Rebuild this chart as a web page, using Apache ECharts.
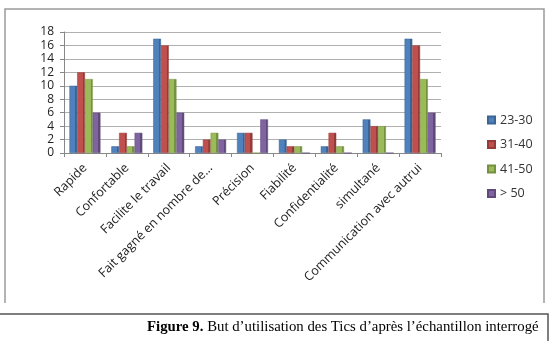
<!DOCTYPE html>
<html>
<head>
<meta charset="utf-8">
<script src="https://cdn.jsdelivr.net/npm/echarts@6/dist/echarts.min.js"></script>
<style>
  html, body { margin: 0; padding: 0; background: #fff; }
  #chart { width: 553px; height: 341px; }
</style>
</head>
<body>
<div id="chart"></div>
<script>
// categories and values
const categories = ['Rapide', 'Confortable', 'Facilite le travail', 'Fait gagné en nombre de...',
    'Précision', 'Fiabilité', 'Confidentialité', 'simultané', 'Communication avec autrui'];
const ages = ['23-30', '31-40', '41-50', '> 50'];
const age2330 = [10, 1, 17, 1, 3, 2, 1, 5, 17];
const age3140 = [12, 3, 16, 2, 3, 1, 3, 4, 16];
const age4150 = [11, 1, 11, 3, 0, 1, 1, 4, 11];
const age50 = [6, 3, 6, 2, 5, 0, 0, 0, 6];
const yTicks = [0, 18, 2]; // min, max, interval

const colors = [['#4F81BD', '#3A6496'], ['#C0504D', '#943B39'], ['#9BBB59', '#74913F'], ['#8064A2', '#5F4A7B']];
const seriesData = [age2330, age3140, age4150, age50];

function shade(c) {
    // flat front with a darker right side, a rough stand-in for the 3D bars
    return {
        type: 'linear', x: 0, y: 0, x2: 1, y2: 0,
        colorStops: [
            { offset: 0, color: c[0] },
            { offset: 0.72, color: c[0] },
            { offset: 0.73, color: c[1] },
            { offset: 1, color: c[1] }
        ]
    };
}

const chart = echarts.init(document.getElementById('chart'));
const font = 'Open Sans';

const option = {
    animation: false,
    textStyle: { fontFamily: font },
    grid: { left: 64, right: 112, top: 32, bottom: 188, containLabel: false },
    legend: {
        orient: 'vertical',
        left: 482,
        top: 108,
        itemWidth: 7,
        itemHeight: 7,
        itemGap: 10.5,
        icon: 'rect',
        textStyle: { fontSize: 12.5, lineHeight: 14, color: '#333', fontFamily: font },
        data: ages.map((a, i) => ({ name: a, itemStyle: { color: colors[i][0] } }))
    },
    xAxis: {
        type: 'category',
        data: categories,
        axisLine: { lineStyle: { color: '#888' } },
        axisTick: { show: true, alignWithLabel: false, length: 4, lineStyle: { color: '#888' } },
        axisLabel: {
            interval: 0,
            rotate: 45,
            fontSize: 12.5,
            color: '#222',
            margin: 13,
            fontFamily: font
        }
    },
    yAxis: {
        type: 'value',
        min: yTicks[0],
        max: yTicks[1],
        interval: yTicks[2],
        axisLine: { show: true, lineStyle: { color: '#888' } },
        axisTick: { show: true, length: 4, lineStyle: { color: '#888' } },
        axisLabel: { fontSize: 12, color: '#222', margin: 10, fontFamily: font },
        splitLine: { lineStyle: { color: '#b0b0b0' } }
    },
    series: seriesData.map((d, i) => ({
        name: ages[i],
        type: 'bar',
        data: d,
        barGap: '0%',
        barCategoryGap: '26%',
        itemStyle: { color: shade(colors[i]), borderColor: colors[i][1], borderWidth: 0.5 }
    })),
    graphic: [
        // chart frame
        { type: 'polyline', shape: { points: [[5, 303], [5, 9], [544, 9], [544, 303]] },
          style: { stroke: '#9a9a9a', fill: null, lineWidth: 1.5 } },
        // caption box
        { type: 'polyline', shape: { points: [[0, 314], [548, 314], [548, 341]] },
          style: { stroke: '#555', fill: null, lineWidth: 1.5 } },
        {
            type: 'text', left: 147, top: 320,
            style: {
                text: '{b|Figure 9.} But d’utilisation des Tics d’après l’échantillon interrogé',
                rich: {
                    b: { fontWeight: 'bold', fontSize: 14.8, fontFamily: 'Liberation Serif', fill: '#000' }
                },
                fontSize: 14.8,
                fontFamily: 'Liberation Serif',
                fill: '#000'
            }
        }
    ]
};
chart.setOption(option);
</script>
</body>
</html>
